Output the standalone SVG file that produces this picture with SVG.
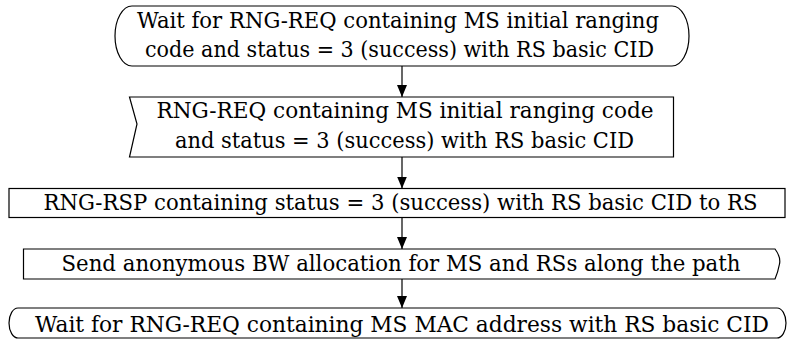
<svg xmlns="http://www.w3.org/2000/svg" width="787" height="341" viewBox="0 0 787 341">
<style>
.s{fill:#fff;stroke:#000;stroke-width:1.2}
.t{font-family:'DejaVu Serif','Liberation Serif',serif;font-size:21.5px;fill:#000}
.c{stroke:#000;stroke-width:1.2;fill:none}
</style>
<defs>
<marker id="a" markerWidth="12" markerHeight="10" refX="12" refY="5" orient="auto" markerUnits="userSpaceOnUse" viewBox="0 0 12 10">
<path d="M0,0 L12,5 L0,10 Z" fill="#000"/>
</marker>
</defs>
<rect width="787" height="341" fill="#fff"/>
<g id="connectors">
<line class="c" x1="402" y1="66" x2="402" y2="97" marker-end="url(#a)"/>
<line class="c" x1="402" y1="157" x2="402" y2="188.5" marker-end="url(#a)"/>
<line class="c" x1="402" y1="217.5" x2="402" y2="249" marker-end="url(#a)"/>
<line class="c" x1="402" y1="279" x2="402" y2="308" marker-end="url(#a)"/>
</g>
<g id="n1">
<path class="s" d="M132,6 H672 A17,30 0 0 1 672,66 H132 A17,30 0 0 1 132,6 Z"/>
<text class="t" x="137" y="27.5" textLength="522" lengthAdjust="spacingAndGlyphs">Wait for RNG-REQ containing MS initial ranging</text>
<text class="t" x="145" y="57" textLength="509" lengthAdjust="spacingAndGlyphs">code and status = 3 (success) with RS basic CID</text>
</g>
<g id="n2">
<path class="s" d="M129.5,97 H673.5 V157 H129.5 L137,124 Z"/>
<text class="t" x="156.5" y="118" textLength="497" lengthAdjust="spacingAndGlyphs">RNG-REQ containing MS initial ranging code</text>
<text class="t" x="175" y="147.5" textLength="459" lengthAdjust="spacingAndGlyphs">and status = 3 (success) with RS basic CID</text>
</g>
<g id="n3">
<rect class="s" x="9" y="188.5" width="776" height="29"/>
<text class="t" x="43.5" y="210" textLength="714" lengthAdjust="spacingAndGlyphs">RNG-RSP containing status = 3 (success) with RS basic CID to RS</text>
</g>
<g id="n4">
<path class="s" d="M23.5,249 H775 Q781,257 779.5,264 Q778,272 775,279 H23.5 Z"/>
<text class="t" x="61.5" y="270.5" textLength="679" lengthAdjust="spacingAndGlyphs">Send anonymous BW allocation for MS and RSs along the path</text>
</g>
<g id="n5">
<path class="s" d="M18,308 H777 A9,15 0 0 1 777,338 H18 A9,15 0 0 1 18,308 Z"/>
<text class="t" x="35" y="331.5" textLength="734" lengthAdjust="spacingAndGlyphs">Wait for RNG-REQ containing MS MAC address with RS basic CID</text>
</g>
</svg>
